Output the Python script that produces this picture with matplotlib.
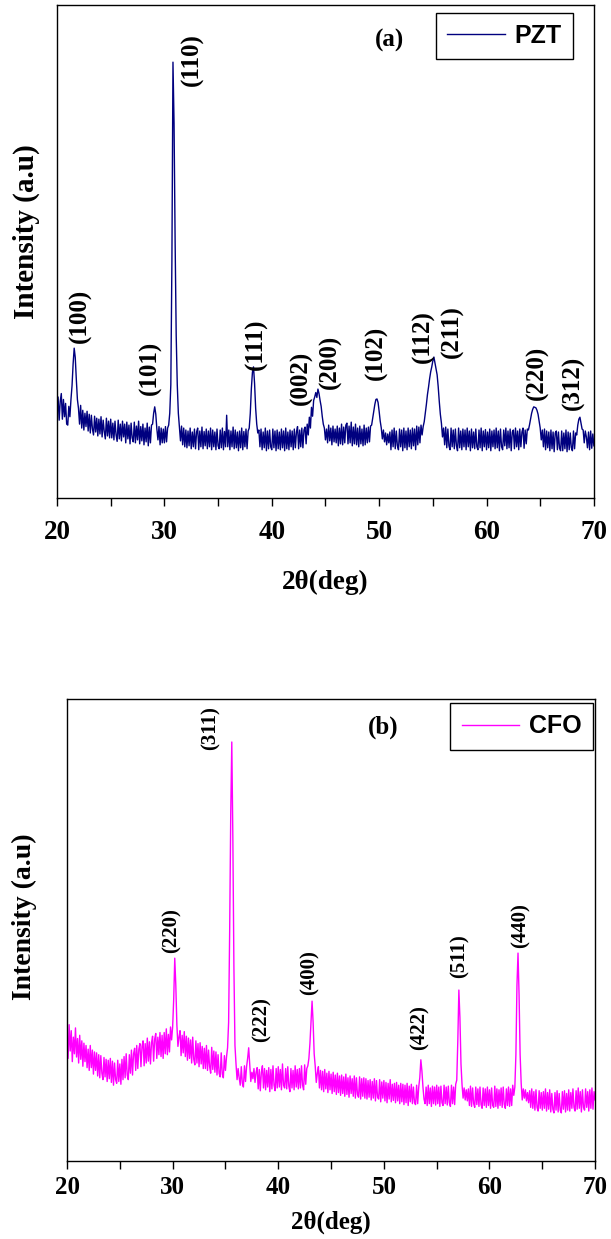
import numpy as np
import matplotlib
matplotlib.use("Agg")
import matplotlib.pyplot as plt
from matplotlib.ticker import MultipleLocator

plt.rcParams['font.family'] = ['Liberation Serif', 'DejaVu Serif']
plt.rcParams['font.weight'] = 'bold'

# 2theta sampling grid (instrument step 0.1 deg)
two_theta = np.round(np.arange(20.0, 70.05, 0.1), 1)

# PZT pattern, arbitrary units
pzt = [
    170, 205, 158, 196, 212, 160, 200, 165, 192, 150,
    148, 186, 165, 200, 228, 272, 304, 285, 240, 200,
    182, 150, 188, 142, 178, 138, 172, 145, 176, 136,
    170, 132, 168, 140, 128, 166, 134, 162, 126, 160,
    130, 165, 124, 158, 135, 120, 162, 126, 156, 122,
    160, 122, 152, 118, 156, 128, 115, 158, 120, 150,
    116, 156, 124, 150, 112, 154, 120, 148, 110, 152,
    122, 114, 154, 112, 146, 118, 156, 110, 145, 116,
    150, 108, 142, 114, 152, 106, 144, 112, 148, 150,
    172, 185, 170, 140, 118, 145, 108, 142, 112, 140,
    112, 145, 114, 142, 148, 172, 230, 480, 884, 760,
    520, 330, 230, 172, 145, 116, 146, 108, 142, 104,
    138, 102, 136, 106, 142, 100, 134, 104, 140, 100,
    134, 142, 98, 136, 104, 144, 100, 135, 106, 140,
    100, 136, 104, 142, 98, 138, 104, 134, 98, 140,
    106, 100, 138, 102, 142, 98, 135, 104, 168, 104,
    138, 98, 136, 104, 144, 100, 138, 102, 134, 96,
    136, 102, 142, 98, 135, 104, 140, 100, 136, 142,
    172, 222, 255, 266, 232, 182, 150, 132, 138, 104,
    140, 98, 134, 102, 142, 96, 136, 100, 138, 104,
    98, 140, 102, 136, 96, 138, 100, 134, 98, 140,
    102, 136, 96, 142, 100, 134, 98, 138, 104, 136,
    98, 140, 102, 134, 145, 100, 138, 104, 142, 102,
    138, 144, 110, 150, 128, 164, 142, 184, 166, 198,
    205, 214, 204, 221, 212, 198, 186, 166, 150, 142,
    118, 140, 112, 148, 116, 142, 108, 146, 114, 140,
    112, 146, 106, 142, 110, 150, 108, 144, 112, 148,
    152, 110, 146, 112, 154, 106, 144, 110, 150, 108,
    142, 104, 146, 110, 140, 106, 148, 108, 142, 112,
    144, 114, 146, 148, 162, 176, 190, 200, 201, 194,
    176, 156, 142, 120, 138, 114, 132, 108, 130, 112,
    134, 98, 138, 104, 142, 100, 136, 106, 98, 140,
    104, 138, 96, 142, 102, 136, 98, 142, 104, 138,
    100, 142, 106, 140, 98, 146, 108, 144, 112, 148,
    128, 145, 155, 172, 190, 210, 225, 242, 256, 266,
    278, 286, 274, 262, 250, 226, 196, 170, 152, 124,
    142, 108, 144, 102, 140, 106, 98, 142, 104, 138,
    100, 140, 106, 96, 142, 102, 136, 98, 140, 104,
    138, 98, 142, 104, 136, 96, 140, 102, 134, 100,
    140, 104, 98, 138, 102, 142, 96, 136, 104, 139,
    98, 134, 102, 140, 96, 136, 104, 138, 100, 142,
    102, 136, 96, 140, 104, 98, 138, 106, 142, 100,
    136, 102, 140, 96, 134, 138, 100, 142, 104, 136,
    98, 140, 104, 134, 142, 101, 138, 110, 140, 138,
    148, 160, 172, 180, 185, 184, 183, 178, 170, 156,
    142, 118, 138, 104, 140, 98, 136, 102, 134, 96,
    138, 100, 134, 94, 132, 136, 98, 134, 101, 96,
    136, 96, 132, 100, 138, 94, 134, 98, 132, 102,
    96, 136, 100, 132, 128, 148, 160, 164, 152, 140,
    138, 112, 136, 124, 102, 134, 98, 136, 101, 130,
    106,
]

# CFO pattern, arbitrary units
cfo = [
    270, 222, 295, 238, 282, 215, 268, 232, 288, 225,
    265, 212, 272, 220, 260, 205, 255, 215, 250, 202,
    242, 196, 250, 202, 240, 188, 236, 196, 234, 184,
    230, 180, 228, 190, 176, 224, 182, 220, 172, 218,
    178, 222, 170, 216, 164, 212, 176, 168, 218, 172,
    210, 166, 220, 176, 226, 180, 232, 186, 176, 230,
    190, 240, 186, 232, 244, 196, 250, 200, 242, 254,
    204, 248, 260, 206, 254, 212, 266, 216, 258, 210,
    256, 270, 216, 264, 276, 222, 268, 230, 278, 226,
    272, 222, 278, 232, 286, 230, 274, 236, 290, 262,
    290, 350, 439, 380, 295, 248, 268, 282, 228, 272,
    234, 280, 226, 270, 218, 266, 222, 262, 212, 268,
    220, 208, 260, 212, 254, 204, 256, 210, 248, 200,
    244, 200, 250, 196, 240, 204, 190, 246, 198, 238,
    192, 236, 186, 230, 190, 182, 234, 188, 180, 228,
    196, 225, 245, 300, 500, 750, 907, 700, 420, 250,
    210, 176, 200, 180, 164, 204, 168, 160, 206, 172,
    204, 222, 245, 208, 172, 192, 178, 200, 170, 192,
    202, 156, 198, 152, 192, 206, 158, 200, 154, 196,
    160, 202, 150, 198, 156, 206, 164, 152, 200, 158,
    204, 160, 198, 154, 210, 164, 158, 200, 156, 204,
    162, 150, 200, 158, 196, 154, 206, 160, 198, 156,
    200, 158, 206, 164, 154, 208, 166, 200, 206, 222,
    255, 300, 346, 300, 232, 205, 170, 190, 204, 158,
    196, 154, 194, 150, 198, 156, 190, 148, 194, 154,
    188, 146, 192, 150, 186, 144, 190, 148, 184, 142,
    186, 146, 182, 140, 188, 144, 180, 138, 184, 146,
    178, 140, 184, 136, 180, 144, 138, 182, 134, 178,
    140, 180, 136, 178, 134, 174, 138, 176, 132, 172,
    136, 178, 130, 174, 138, 134, 176, 128, 171, 136,
    174, 130, 170, 126, 168, 134, 176, 128, 166, 131,
    168, 126, 170, 130, 164, 124, 168, 128, 166, 122,
    164, 126, 168, 120, 162, 128, 166, 124, 160, 126,
    122, 164, 124, 160, 180, 219, 195, 160, 134, 124,
    160, 120, 164, 124, 158, 118, 162, 124, 160, 121,
    164, 124, 160, 118, 162, 126, 120, 164, 124, 160,
    121, 162, 126, 118, 164, 124, 160, 122, 166, 175,
    260, 370, 310, 210, 165, 136, 158, 132, 154, 130,
    156, 120, 162, 118, 158, 124, 116, 160, 122, 156,
    118, 160, 122, 114, 158, 120, 156, 116, 160, 120,
    154, 114, 158, 120, 116, 162, 118, 156, 114, 154,
    120, 158, 116, 160, 122, 114, 156, 120, 160, 118,
    156, 120, 164, 142, 160, 230, 380, 450, 360, 230,
    168, 132, 156, 136, 154, 130, 148, 126, 152, 116,
    156, 114, 150, 110, 154, 116, 108, 152, 114, 148,
    110, 150, 114, 156, 108, 148, 112, 154, 106, 146,
    112, 104, 148, 110, 152, 106, 146, 110, 104, 150,
    112, 152, 106, 146, 110, 154, 108, 148, 114, 156,
    116, 108, 152, 112, 158, 114, 150, 106, 154, 116,
    110, 156, 116, 150, 108, 154, 114, 158, 112, 150,
    132,
]

# peak labels: text, 2theta, label base height
pzt_peaks = ["(100)", "(101)", "(110)", "(111)", "(002)", "(200)",
             "(102)", "(112)", "(211)", "(220)", "(312)"]
pzt_peak_x = [22.2, 28.7, 32.6, 38.6, 42.8, 45.5, 49.7, 54.1, 56.8, 64.7, 68.1]
pzt_peak_y = [314, 209, 836, 260, 189, 221, 239, 274, 284, 199, 178]

cfo_peaks = ["(220)", "(311)", "(222)", "(400)", "(422)", "(511)", "(440)"]
cfo_peak_x = [29.9, 33.6, 38.4, 43.0, 53.4, 57.2, 62.9]
cfo_peak_y = [450, 890, 258, 359, 240, 396, 461]

fig = plt.figure(figsize=(6.11, 12.39), dpi=100)
ax_a = fig.add_axes([0.0933, 0.598, 0.8787, 0.398])
ax_b = fig.add_axes([0.1097, 0.063, 0.8643, 0.3728])

panels = [
    dict(ax=ax_a, y=pzt, col="#00007f", name="PZT", tag="(a)", tagpos=(51.0, 929),
         labs=pzt_peaks, lx=pzt_peak_x, ly=pzt_peak_y, pfs=18, tfs=19.5, yfs=21,
         lbox=(0.961, 0.984), ylc=(-0.032, 0.54), pad=10, lpad=18),
    dict(ax=ax_b, y=cfo, col="#ff00ff", name="CFO", tag="(b)", tagpos=(49.9, 939),
         labs=cfo_peaks, lx=cfo_peak_x, ly=cfo_peak_y, pfs=15, tfs=18, yfs=20,
         lbox=(0.996, 0.991), ylc=(-0.057, 0.528), pad=5, lpad=8),
]

for p in panels:
    ax = p["ax"]
    ax.plot(two_theta, p["y"], color=p["col"], lw=1.0, label=p["name"])
    ax.set_xlim(20, 70)
    ax.set_ylim(0, 1000)
    ax.set_yticks([])
    ax.xaxis.set_major_locator(MultipleLocator(10))
    ax.xaxis.set_minor_locator(MultipleLocator(5))
    ax.tick_params(axis="x", which="both", direction="out", length=6, width=1,
                   labelsize=p["tfs"], pad=p["pad"])
    for t in ax.get_xticklabels():
        t.set_fontweight("bold")
    for s in ax.spines.values():
        s.set_linewidth(1.0)
    ax.set_xlabel("2θ(deg)", fontsize=p["tfs"], fontweight="bold", labelpad=p["lpad"])
    ax.set_ylabel("Intensity (a.u)", fontsize=p["yfs"], fontweight="bold")
    ax.yaxis.set_label_coords(*p["ylc"])
    for s_, xx, yy in zip(p["labs"], p["lx"], p["ly"]):
        ax.text(xx, yy, s_, rotation=90, ha="center", va="bottom",
                fontsize=p["pfs"], fontweight="bold")
    ax.text(p["tagpos"][0], p["tagpos"][1], p["tag"], ha="center", va="center",
            fontsize=18, fontweight="bold")
    leg = ax.legend(loc="upper right", bbox_to_anchor=p["lbox"], borderaxespad=0,
                    fancybox=False, framealpha=1, edgecolor="black",
                    handlelength=2.3, handletextpad=0.4, borderpad=0.45,
                    prop={"family": ["Liberation Sans", "DejaVu Sans"],
                          "weight": "bold", "size": 18})
    leg.get_frame().set_linewidth(1.0)

fig.savefig("out.png", dpi=100)
